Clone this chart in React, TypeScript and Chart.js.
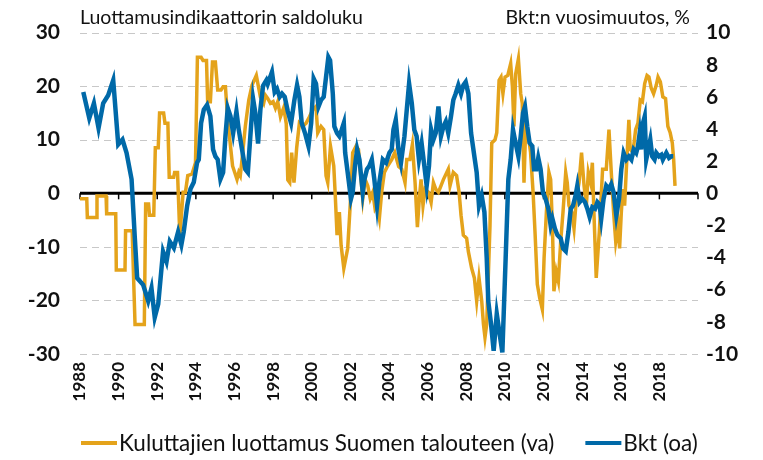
import { useEffect, useRef } from 'react';
import { Chart, registerables } from 'chart.js';

Chart.register(...registerables);

// ---- Data ----
const titleLeft = 'Luottamusindikaattorin saldoluku';
const titleRight = 'Bkt:n vuosimuutos, %';
const confidenceLabel = 'Kuluttajien luottamus Suomen talouteen (va)';
const gdpLabel = 'Bkt (oa)';

const yearTicks = [1988, 1990, 1992, 1994, 1996, 1998, 2000, 2002, 2004, 2006, 2008, 2010, 2012, 2014, 2016, 2018, 2020];

// Consumer confidence (left axis), time in decimal years
const confidenceT = [
  1988.0, 1988.35, 1988.38, 1988.85, 1988.88, 1989.35, 1989.38, 1989.85, 1989.88, 1990.33,
  1990.36, 1990.7, 1990.85, 1991.33, 1991.4, 1991.55, 1991.6, 1991.82, 1991.9, 1992.05,
  1992.12, 1992.33, 1992.4, 1992.55, 1992.62, 1992.85, 1992.9, 1993.05, 1993.17, 1993.34,
  1993.46, 1993.58, 1993.8, 1993.98, 1994.08, 1994.27, 1994.37, 1994.55, 1994.61, 1994.75,
  1994.86, 1995.01, 1995.13, 1995.3, 1995.41, 1995.53, 1995.65, 1995.9, 1996.13, 1996.22,
  1996.3, 1996.39, 1996.56, 1996.74, 1996.91, 1997.13, 1997.34, 1997.51, 1997.6, 1997.72,
  1997.86, 1998.0, 1998.12, 1998.24, 1998.38, 1998.55, 1998.68, 1998.76, 1998.86, 1998.96,
  1999.08, 1999.22, 1999.36, 1999.53, 1999.71, 1999.88, 2000.05, 2000.22, 2000.31, 2000.48,
  2000.62, 2000.74, 2000.83, 2000.97, 2001.14, 2001.21, 2001.31, 2001.43, 2001.52, 2001.66,
  2001.86, 2002.0, 2002.12, 2002.29, 2002.42, 2002.52, 2002.64, 2002.76, 2002.9, 2003.03,
  2003.16, 2003.28, 2003.38, 2003.5, 2003.62, 2003.76, 2003.93, 2004.14, 2004.3, 2004.5,
  2004.66, 2004.83, 2004.92, 2005.08, 2005.21, 2005.35, 2005.47, 2005.57, 2005.66, 2005.76,
  2005.87, 2006.04, 2006.18, 2006.3, 2006.42, 2006.56, 2006.69, 2006.82, 2006.99, 2007.07,
  2007.16, 2007.33, 2007.5, 2007.63, 2007.73, 2007.85, 2008.02, 2008.11, 2008.28, 2008.42,
  2008.54, 2008.66, 2008.8, 2008.89, 2008.97, 2009.06, 2009.23, 2009.32, 2009.49, 2009.58,
  2009.7, 2009.8, 2009.9, 2010.01, 2010.15, 2010.3, 2010.39, 2010.47, 2010.56, 2010.7,
  2010.82, 2010.9, 2010.99, 2011.08, 2011.22, 2011.33, 2011.46, 2011.56, 2011.68, 2011.8,
  2011.94, 2012.03, 2012.15, 2012.28, 2012.37, 2012.46, 2012.54, 2012.66, 2012.77, 2012.89,
  2013.01, 2013.15, 2013.23, 2013.32, 2013.46, 2013.58, 2013.7, 2013.84, 2013.97, 2014.1,
  2014.22, 2014.32, 2014.44, 2014.53, 2014.61, 2014.73, 2014.89, 2015.06, 2015.25, 2015.39,
  2015.51, 2015.63, 2015.74, 2015.86, 2015.94, 2016.03, 2016.11, 2016.2, 2016.29, 2016.42,
  2016.49, 2016.63, 2016.77, 2016.89, 2017.01, 2017.12, 2017.24, 2017.36, 2017.46, 2017.58,
  2017.7, 2017.84, 2017.93, 2018.05, 2018.18, 2018.32, 2018.44, 2018.56, 2018.67, 2018.74,
  2018.81,
];
const confidenceV = [
  -1.0, -1.0, -4.5, -4.5, -0.5, -0.5, -3.8, -3.8, -14.3, -14.3,
  -7.0, -7.0, -24.5, -24.5, -2.0, -2.0, -4.1, -4.1, 8.5, 8.5,
  15.0, 15.0, 13.1, 13.1, 3.0, 3.0, 3.9, 3.9, -8.0, 0.2,
  0.2, 3.3, 3.6, 5.7, 25.4, 25.4, 24.8, 24.8, 17.1, 17.1,
  24.5, 24.5, 19.3, 19.3, 19.9, 19.9, 13.7, 5.1, 2.6, 3.9,
  3.3, 6.3, 12.5, 17.4, 20.2, 22.0, 18.0, 16.8, 18.3, 17.7,
  16.8, 17.1, 15.9, 17.1, 14.3, 16.0, 13.0, 2.5, 2.0, 7.6,
  2.0, 8.5, 13.1, 12.5, 13.1, 14.3, 15.6, 16.2, 11.3, 12.5,
  11.9, 3.3, 2.0, 8.8, 5.1, 0.2, -7.8, -3.5, -9.7, -14.0,
  -10.3, -1.7, 7.6, 8.8, 8.2, 3.9, -1.0, 2.6, 1.4, -1.0,
  0.2, -2.9, -2.3, -4.7, 0.2, 3.9, 5.1, 6.3, 7.6, 5.0,
  4.5, 2.0, 6.3, 6.3, 9.1, 2.0, -6.3, -1.0, 2.6, -2.3,
  0.8, 0.2, -1.7, 2.0, 0.8, 0.2, 1.4, 2.6, 3.9, 4.5,
  1.4, 3.9, 3.3, 0.2, -4.1, -7.8, -8.4, -10.9, -14.0, -15.8,
  -20.1, -15.8, -20.1, -24.4, -26.9, -24.4, -6.0, 9.4, 10.0, 11.3,
  21.1, 21.7, 18.6, 21.7, 22.0, 24.2, 19.9, 12.5, 22.3, 25.1,
  18.6, 16.8, 2.0, 12.5, 10.6, 7.6, 0.2, -7.2, -17.0, -19.5,
  -21.7, -12.1, -3.5, 3.9, 2.6, -6.0, -18.3, -14.6, -16.4, -9.0,
  -3.5, 3.9, 2.0, -2.3, -3.5, -6.6, -1.0, 2.0, 7.6, 1.4,
  -2.3, 3.9, 2.0, 5.7, -3.5, -15.8, -7.2, 4.5, 4.5, 11.9,
  3.9, -3.5, -9.0, -6.0, -10.3, -3.5, 0.8, -2.3, 4.5, 13.7,
  8.2, 7.6, 11.9, 13.1, 17.4, 17.1, 20.5, 22.0, 21.7, 19.6,
  18.6, 20.2, 21.7, 20.8, 18.0, 17.7, 12.5, 11.3, 9.4, 6.3,
  1.4,
];

// GDP annual change, % (right axis)
const gdpT = [
  1988.17, 1988.48, 1988.72, 1988.96, 1989.2, 1989.46, 1989.72, 1989.98, 1990.2, 1990.41,
  1990.67, 1990.84, 1990.96, 1991.27, 1991.53, 1991.7, 1991.87, 1992.05, 1992.3, 1992.48,
  1992.65, 1992.86, 1993.08, 1993.25, 1993.37, 1993.55, 1993.72, 1993.89, 1994.06, 1994.15,
  1994.27, 1994.41, 1994.58, 1994.75, 1994.89, 1995.01, 1995.13, 1995.27, 1995.41, 1995.53,
  1995.65, 1995.79, 1995.93, 1996.1, 1996.22, 1996.39, 1996.56, 1996.69, 1996.82, 1996.96,
  1997.08, 1997.22, 1997.34, 1997.48, 1997.65, 1997.72, 1997.94, 1998.08, 1998.2, 1998.34,
  1998.46, 1998.6, 1998.76, 1998.93, 1999.1, 1999.24, 1999.36, 1999.48, 1999.65, 1999.83,
  1999.97, 2000.1, 2000.22, 2000.35, 2000.48, 2000.62, 2000.74, 2000.86, 2000.95, 2001.09,
  2001.17, 2001.31, 2001.43, 2001.55, 2001.66, 2001.73, 2001.86, 2002.03, 2002.12, 2002.24,
  2002.35, 2002.47, 2002.64, 2002.73, 2002.86, 2002.98, 2003.11, 2003.24, 2003.38, 2003.5,
  2003.68, 2003.85, 2004.02, 2004.14, 2004.23, 2004.35, 2004.49, 2004.62, 2004.8, 2004.92,
  2005.04, 2005.18, 2005.31, 2005.43, 2005.55, 2005.69, 2005.83, 2005.95, 2006.07, 2006.18,
  2006.3, 2006.42, 2006.56, 2006.69, 2006.82, 2006.94, 2007.07, 2007.21, 2007.33, 2007.45,
  2007.59, 2007.73, 2007.85, 2007.97, 2008.11, 2008.25, 2008.42, 2008.54, 2008.66, 2008.8,
  2008.94, 2009.06, 2009.14, 2009.28, 2009.42, 2009.58, 2009.73, 2009.87, 2010.04, 2010.18,
  2010.3, 2010.42, 2010.52, 2010.7, 2010.82, 2010.94, 2011.04, 2011.16, 2011.28, 2011.42,
  2011.51, 2011.63, 2011.73, 2011.85, 2011.97, 2012.11, 2012.25, 2012.37, 2012.46, 2012.59,
  2012.72, 2012.89, 2013.01, 2013.15, 2013.29, 2013.41, 2013.53, 2013.66, 2013.75, 2013.87,
  2014.01, 2014.15, 2014.27, 2014.39, 2014.53, 2014.67, 2014.79, 2014.9, 2014.99, 2015.11,
  2015.25, 2015.39, 2015.51, 2015.63, 2015.77, 2015.91, 2016.03, 2016.15, 2016.29, 2016.42,
  2016.55, 2016.67, 2016.8, 2016.89, 2016.98, 2017.06, 2017.15, 2017.24, 2017.32, 2017.46,
  2017.53, 2017.63, 2017.75, 2017.84, 2017.98, 2018.1, 2018.18, 2018.36, 2018.5, 2018.62,
  2018.72,
];
const gdpV = [
  6.3, 4.68, 5.6, 4.06, 5.6, 6.1, 7.04, 3.04, 3.34, 2.52,
  0.88, -2.8, -5.27, -5.7, -6.7, -5.9, -7.73, -6.9, -3.63, -4.25,
  -3.0, -3.4, -2.4, -3.2, -2.4, -0.76, 0.27, 0.68, 1.9, 2.1,
  4.37, 5.2, 5.5, 4.8, 2.73, 2.3, 2.1, 0.88, 1.3, 3.55,
  5.3, 4.8, 3.75, 5.1, 3.96, 2.73, 1.5, 1.3, 3.55, 5.9,
  5.0, 3.1, 5.2, 6.7, 7.04, 6.8, 7.55, 6.3, 6.5, 6.0,
  6.2, 6.0, 5.1, 4.37, 5.8, 6.73, 6.0, 4.37, 3.75, 2.93,
  4.37, 7.14, 6.83, 5.4, 5.8, 6.0, 7.24, 8.47, 8.27, 6.2,
  4.16, 3.75, 3.55, 3.96, 4.37, 2.52, 1.3, -0.35, 0.06, 1.7,
  2.73, 2.1, 0.06, 0.88, 1.5, 1.7, 2.1, 0.88, -0.76, 0.68,
  2.1, 1.9, 2.52, 2.73, 3.96, 4.57, 2.73, 1.9, 3.55, 5.2,
  6.83, 5.6, 3.96, 3.55, 2.1, 3.1, 1.7, 0.47, 1.7, 3.96,
  3.34, 3.75, 5.4, 3.55, 4.16, 4.47, 3.75, 4.78, 5.8, 6.2,
  6.73, 6.2, 6.73, 6.93, 6.2, 3.75, 2.3, 1.3, -0.76, -0.14,
  -1.17, -4.04, -6.7, -8.1, -9.8, -7.5, -8.76, -9.9, -4.04, 0.88,
  2.1, 3.96, 3.34, 2.3, 3.55, 5.0, 5.4, 4.16, 3.14, 2.93,
  1.5, 1.5, 2.2, 1.5, 0.06, -0.35, -0.96, -2.0, -1.58, -2.2,
  -2.6, -2.8, -3.43, -3.6, -2.4, -0.96, -0.76, -0.14, 0.47, -0.55,
  -0.35, -0.55, -0.96, -1.48, -0.86, -0.96, -0.55, -0.7, -1.58, -0.35,
  0.47, 0.27, 0.57, 0.06, -1.37, -0.35, 1.5, 2.52, 2.1, 2.3,
  2.1, 2.73, 2.52, 2.93, 3.75, 2.73, 4.37, 4.78, 2.1, 2.93,
  3.34, 2.3, 2.1, 2.52, 2.3, 2.4, 2.1, 2.52, 2.2, 2.3,
  2.3,
];

const YELLOW = '#E4A31B';
const BLUE = '#0069A8';
const FONT = 'Lato, "DejaVu Sans", sans-serif';

// Dashed horizontal grid + zero axis line with tick marks, drawn from the scales
const axisPlugin = {
  id: 'axisDecor',
  beforeDatasetsDraw(chart: any) {
    const { ctx, chartArea, scales } = chart;
    ctx.save();
    ctx.strokeStyle = '#c8c8c8';
    ctx.lineWidth = 1;
    ctx.setLineDash([7, 5]);
    for (const t of scales.y.ticks) {
      const py = Math.round(scales.y.getPixelForValue(t.value)) + 0.5;
      ctx.beginPath();
      ctx.moveTo(chartArea.left, py);
      ctx.lineTo(chartArea.right, py);
      ctx.stroke();
    }
    ctx.setLineDash([]);
    const y0 = scales.y.getPixelForValue(0);
    ctx.strokeStyle = '#000';
    ctx.lineWidth = 1.5;
    for (const t of yearTicks) {
      const px = scales.x.getPixelForValue(t);
      ctx.beginPath();
      ctx.moveTo(px, y0);
      ctx.lineTo(px, y0 + 6);
      ctx.stroke();
    }
    ctx.lineWidth = 3;
    ctx.beginPath();
    ctx.moveTo(chartArea.left, y0);
    ctx.lineTo(chartArea.right, y0);
    ctx.stroke();
    ctx.restore();
  },
};

// Titles above the plot and the legend below the axis labels
const textPlugin = {
  id: 'texts',
  afterDraw(chart: any) {
    const { ctx, chartArea } = chart;
    ctx.save();
    ctx.fillStyle = '#111';
    ctx.font = `19.5px ${FONT}`;
    ctx.textBaseline = 'alphabetic';
    ctx.textAlign = 'left';
    ctx.fillText(titleLeft, chartArea.left, 24);
    ctx.textAlign = 'right';
    ctx.fillText(titleRight, chartArea.right - 8, 24);

    // legend
    ctx.font = `22.5px ${FONT}`;
    ctx.textAlign = 'left';
    ctx.textBaseline = 'middle';
    const ly = 443;
    let x = chartArea.left + 1;
    chart.data.datasets.forEach((d: any, i: number) => {
      ctx.fillStyle = d.borderColor;
      ctx.fillRect(x, ly - 2, 36, 4);
      x += 38;
      ctx.fillStyle = '#111';
      ctx.fillText(d.label, x, ly + 1);
      x += ctx.measureText(d.label).width;
      if (i === 0) x += 31;
    });
    ctx.restore();
  },
};

export default function App() {
  const ref = useRef<HTMLCanvasElement>(null);
  useEffect(() => {
    if (!ref.current) return;
    const conf = confidenceT.map((t, i) => ({ x: t, y: confidenceV[i] }));
    const gdp = gdpT.map((t, i) => ({ x: t, y: gdpV[i] }));
    const chart = new Chart(ref.current, {
      type: 'line',
      data: {
        datasets: [
          {
            label: confidenceLabel,
            data: conf,
            yAxisID: 'y',
            borderColor: YELLOW,
            backgroundColor: YELLOW,
            borderWidth: 3.5,
            pointRadius: 0,
            tension: 0,
            order: 1,
          },
          {
            label: gdpLabel,
            data: gdp,
            yAxisID: 'y1',
            borderColor: BLUE,
            backgroundColor: BLUE,
            borderWidth: 4.5,
            pointRadius: 0,
            tension: 0,
            order: 0,
          },
        ],
      },
      options: {
        responsive: false,
        animation: false,
        parsing: false,
        events: [],
        layout: { padding: { top: 30, left: 0, right: 0, bottom: 57 } },
        plugins: {
          tooltip: { enabled: false },
          legend: { display: false },
        },
        scales: {
          x: {
            type: 'linear',
            min: 1988,
            max: 2020,
            afterBuildTicks: (s: any) => {
              s.ticks = yearTicks.map((v) => ({ value: v }));
            },
            afterFit: (s: any) => {
              s.height = 49;
            },
            ticks: {
              autoSkip: false,
              minRotation: 90,
              maxRotation: 90,
              padding: 8,
              color: '#111',
              font: { family: FONT, size: 17, weight: 'bold' },
              callback: (v: any) => (v === 2020 ? '' : String(v)),
            },
            grid: { display: false, drawTicks: false },
            border: { display: false },
          },
          y: {
            position: 'left',
            min: -30,
            max: 30,
            afterFit: (s: any) => {
              s.width = 80;
            },
            ticks: {
              stepSize: 10,
              padding: 20,
              color: '#111',
              font: { family: FONT, size: 21, weight: 'bold' },
            },
            grid: { display: false, drawTicks: false },
            border: { display: false },
          },
          y1: {
            position: 'right',
            min: -10,
            max: 10,
            afterFit: (s: any) => {
              s.width = 65;
            },
            ticks: {
              stepSize: 2,
              padding: 8,
              color: '#111',
              font: { family: FONT, size: 21, weight: 'bold' },
            },
            grid: { display: false, drawTicks: false },
            border: { display: false },
          },
        },
      },
      plugins: [axisPlugin, textPlugin],
    } as any);
    return () => chart.destroy();
  }, []);
  return (
    <div style={{ position: 'absolute', left: 0, top: 0, width: 763, height: 460, background: '#fff' }}>
      <canvas ref={ref} width={763} height={460} style={{ display: 'block' }} />
    </div>
  );
}
